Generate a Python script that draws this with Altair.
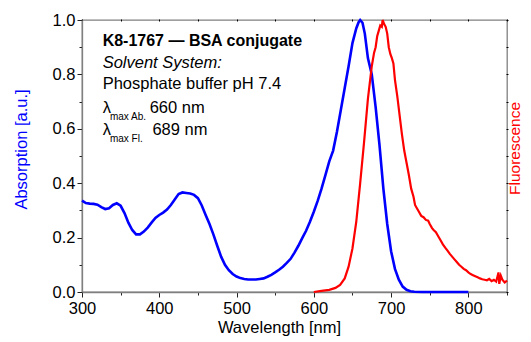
import altair as alt
import pandas as pd

# Absorption spectrum (blue)
abs_nm = [300, 305, 310, 315, 320, 325, 330, 335, 340, 345, 350, 355, 360, 365, 370,
          375, 380, 385, 390, 395, 400, 405, 410, 415, 420, 425, 430, 435, 440, 445,
          450, 455, 460, 465, 470, 475, 480, 485, 490, 495, 500, 505, 510, 515, 520,
          525, 530, 535, 540, 545, 550, 555, 560, 565, 570, 575, 580, 585, 590, 595,
          600, 605, 610, 615, 620, 625, 630, 635, 640, 645, 650, 655, 658, 660, 663,
          666, 670, 675, 680, 685, 690, 695, 700, 705, 710, 715, 720, 725, 730, 740, 800]
abs_val = [0.336, 0.327, 0.325, 0.324, 0.321, 0.312, 0.305, 0.308, 0.320, 0.326, 0.317, 0.290, 0.255, 0.228, 0.212,
           0.212, 0.222, 0.237, 0.255, 0.272, 0.283, 0.292, 0.303, 0.320, 0.340, 0.360, 0.366, 0.364, 0.362, 0.357,
           0.345, 0.318, 0.283, 0.250, 0.212, 0.170, 0.130, 0.100, 0.080, 0.066, 0.057, 0.051, 0.048, 0.046, 0.046,
           0.046, 0.048, 0.050, 0.056, 0.063, 0.072, 0.082, 0.093, 0.107, 0.122, 0.145, 0.170, 0.198, 0.225, 0.258,
           0.295, 0.335, 0.380, 0.430, 0.480, 0.520, 0.590, 0.670, 0.750, 0.830, 0.915, 0.970, 0.992, 1.000, 0.990,
           0.950, 0.860, 0.800, 0.680, 0.540, 0.380, 0.250, 0.150, 0.085, 0.045, 0.020, 0.008, 0.003, 0.001, 0.000, 0.000]

# Fluorescence spectrum (red)
fl_nm = [600, 610, 620, 628, 634, 640, 645, 650, 655, 660, 665, 670, 675, 678, 680,
         682, 684, 686, 688, 689, 691, 693, 695, 697, 699, 701, 703, 705, 708, 711,
         714, 717, 720, 723, 726, 729, 731, 733, 736, 739, 742, 745, 748, 750, 753,
         755, 758, 761, 764, 767, 770, 773, 776, 779, 782, 785, 788, 791, 794, 797,
         800, 803, 806, 809, 812, 815, 818, 821, 824, 827, 830, 833, 836, 839, 840,
         842, 844, 847, 850]
fl_val = [0.000, 0.004, 0.008, 0.015, 0.026, 0.050, 0.093, 0.160, 0.260, 0.400, 0.550, 0.710, 0.830, 0.880, 0.900,
          0.940, 0.960, 0.980, 0.975, 1.000, 0.985, 0.975, 0.950, 0.900, 0.875, 0.860, 0.840, 0.780, 0.720, 0.650,
          0.580, 0.520, 0.475, 0.430, 0.380, 0.350, 0.320, 0.310, 0.295, 0.280, 0.275, 0.265, 0.262, 0.250, 0.235,
          0.228, 0.220, 0.205, 0.190, 0.175, 0.163, 0.152, 0.140, 0.130, 0.120, 0.110, 0.100, 0.093, 0.085, 0.080,
          0.072, 0.066, 0.062, 0.058, 0.054, 0.050, 0.047, 0.045, 0.043, 0.048, 0.040, 0.045, 0.038, 0.072, 0.030,
          0.060, 0.045, 0.035, 0.042]

x_major = [300, 400, 500, 600, 700, 800]
x_minor = [300, 350, 400, 450, 500, 550, 600, 650, 700, 750, 800, 850]
y_major = [0.0, 0.2, 0.4, 0.6, 0.8, 1.0]
y_minor = [0.0, 0.1, 0.2, 0.3, 0.4, 0.5, 0.6, 0.7, 0.8, 0.9, 1.0]

# Annotation text lines
note_lines = ["K8-1767 — BSA conjugate", "Solvent System:", "Phosphate buffer pH 7.4"]
lam_subs = ["max Ab.", "max Fl."]
lam_vals = ["660 nm", "689 nm"]

abs_df = pd.DataFrame({"nm": abs_nm, "val": abs_val})
fl_df = pd.DataFrame({"nm": fl_nm, "val": fl_val})
one = pd.DataFrame({"k": [0]})

FONT = "Liberation Sans"
BLUE = "#0000ff"
RED = "#ff0000"
FRAME = "#808080"
TICK = "#222222"
FS = 16.5

x_scale = alt.Scale(domain=[300, 850], nice=False, zero=False)
y_scale = alt.Scale(domain=[0, 1], nice=False, zero=False)

blue_line = alt.Chart(abs_df).mark_line(color=BLUE, strokeWidth=2.6).encode(
    x=alt.X("nm:Q", scale=x_scale,
            axis=alt.Axis(orient="bottom", values=x_major, title="Wavelength [nm]",
                          tickSize=5, labelFlush=False, labelPadding=3, titlePadding=3,
                          titleX=197)),
    y=alt.Y("val:Q", scale=y_scale,
            axis=alt.Axis(orient="left", values=y_major, title="Absorption [a.u.]", titleColor=BLUE,
                          format=".1f", tickSize=5, labelPadding=2, titlePadding=23,
                          labelFlush=False, titleY=129)),
)

minor = alt.Chart(abs_df).mark_line(opacity=0).encode(
    x=alt.X("nm:Q", scale=x_scale,
            axis=alt.Axis(orient="bottom", values=x_minor, labels=False, title=None,
                          tickSize=3, domain=False)),
    y=alt.Y("val:Q", scale=y_scale,
            axis=alt.Axis(orient="left", values=y_minor, labels=False, title=None,
                          tickSize=3, domain=False)),
)

red_line = alt.Chart(fl_df).mark_line(color=RED, strokeWidth=2.2).encode(
    x=alt.X("nm:Q", scale=x_scale,
            axis=alt.Axis(orient="top", values=x_minor, labels=False, title=None,
                          tickSize=2, offset=-1, domain=False, tickColor="black")),
    y=alt.Y("val:Q", scale=y_scale,
            axis=alt.Axis(orient="right", values=y_minor, labels=False, title="Fluorescence",
                          titleColor=RED, titleAngle=270, titleBaseline="alphabetic",
                          titleAlign="center", titleX=13.5, titleY=128, titleFontSize=15.5,
                          tickSize=2, offset=-1, domain=False, tickColor="black")),
)


def txt(s, xv, yv, size=FS, weight="normal", style="normal"):
    return alt.Chart(one).mark_text(
        text=s, align="left", baseline="alphabetic", font=FONT, fontSize=size,
        fontWeight=weight, fontStyle=style, color="black"
    ).encode(
        x=alt.XDatum(xv, scale=x_scale, axis=None, type="quantitative"),
        y=alt.YDatum(yv, scale=y_scale, axis=None, type="quantitative"),
    )


notes = [
    txt(note_lines[0], 326.7, 0.904, size=16, weight="bold"),
    txt(note_lines[1], 326.7, 0.825, style="italic"),
    txt(note_lines[2], 326.7, 0.745),
    txt("λ", 326.7, 0.657),
    txt(lam_subs[0], 336.1, 0.632, size=10),
    txt(lam_vals[0], 387.6, 0.657),
    txt("λ", 326.7, 0.577),
    txt(lam_subs[1], 336.1, 0.553, size=10),
    txt(lam_vals[1], 391.1, 0.577),
]

chart = alt.layer(minor, blue_line, red_line, *notes).resolve_axis(
    x="independent", y="independent"
).properties(
    width=425, height=272,
    autosize=alt.AutoSizeParams(type="none"),
    padding={"left": 74, "top": 12, "right": 16, "bottom": 50},
).configure_view(
    stroke=FRAME, strokeWidth=1.3
).configure_axis(
    grid=False, labelFont=FONT, titleFont=FONT, labelFontSize=FS, titleFontSize=FS,
    titleFontWeight="normal", labelColor="black", titleColor="black",
    domainColor=FRAME, domainWidth=1.3, tickColor=TICK, tickWidth=1
)

chart.save("out.html", embed_options={"renderer": "svg", "actions": False})
